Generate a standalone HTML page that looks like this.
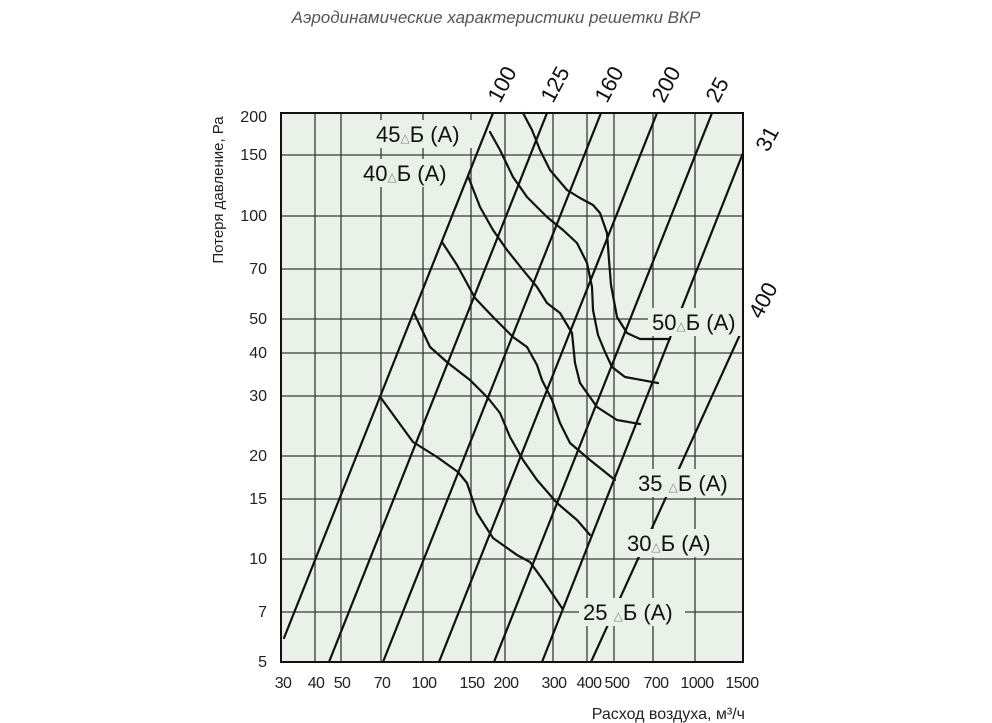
<!DOCTYPE html>
<html><head><meta charset="utf-8"><style>
html,body{margin:0;padding:0;background:#fff;}
svg{display:block;font-family:"Liberation Sans",sans-serif;}
</style></head><body>
<svg width="992" height="723" viewBox="0 0 992 723" xmlns="http://www.w3.org/2000/svg">
<text x="496" y="23" text-anchor="middle" font-size="17" font-style="italic" fill="#555">Аэродинамические характеристики решетки ВКР</text>
<rect x="281" y="113" width="462" height="549" fill="#e9f1e8"/>
<g stroke="#3a3a3a" stroke-width="1.3">
<line x1="315" y1="113" x2="315" y2="662"/><line x1="341" y1="113" x2="341" y2="662"/><line x1="381" y1="113" x2="381" y2="662"/><line x1="423" y1="113" x2="423" y2="662"/><line x1="471" y1="113" x2="471" y2="662"/><line x1="505" y1="113" x2="505" y2="662"/><line x1="553" y1="113" x2="553" y2="662"/><line x1="587" y1="113" x2="587" y2="662"/><line x1="614" y1="113" x2="614" y2="662"/><line x1="653" y1="113" x2="653" y2="662"/><line x1="695" y1="113" x2="695" y2="662"/>
<line x1="281" y1="612" x2="743" y2="612"/><line x1="281" y1="559" x2="743" y2="559"/><line x1="281" y1="499" x2="743" y2="499"/><line x1="281" y1="456" x2="743" y2="456"/><line x1="281" y1="396" x2="743" y2="396"/><line x1="281" y1="353" x2="743" y2="353"/><line x1="281" y1="319" x2="743" y2="319"/><line x1="281" y1="269" x2="743" y2="269"/><line x1="281" y1="216" x2="743" y2="216"/><line x1="281" y1="155" x2="743" y2="155"/>
</g>
<g stroke="#111" stroke-width="2.2" fill="none" stroke-linecap="round" stroke-linejoin="round">
<line x1="284" y1="638" x2="493" y2="113"/>
<line x1="329" y1="662" x2="547" y2="113"/>
<line x1="383" y1="662" x2="601" y2="113"/>
<line x1="439" y1="662" x2="657" y2="113"/>
<line x1="494" y1="662" x2="712" y2="113"/>
<line x1="542" y1="662" x2="743" y2="153"/>
<line x1="591" y1="662" x2="743" y2="328"/>
<polyline points="381,398 413,442 437,457 458,472 467,483 477,513 493,538 517,555 530,562 543,580 562,608"/>
<polyline points="414,313 430,347 448,363 470,380 488,398 500,413 510,437 523,460 537,480 557,503 577,520 590,535"/>
<polyline points="442,242 457,265 475,298 493,317 513,337 527,347 537,365 542,380 552,400 560,423 570,443 590,460 615,480"/>
<polyline points="468,176 480,207 493,230 507,250 523,270 537,287 547,303 560,313 572,333 575,363 580,383 597,407 617,420 640,424"/>
<polyline points="490,132 500,150 513,177 527,197 547,217 563,230 577,243 587,263 592,287 593,310 598,335 605,352 612,367 625,377 658,383"/>
<polyline points="523,113 532,130 540,150 550,170 567,190 580,198 593,205 600,213 607,233 609,260 611,285 617,317 627,333 640,339 670,339"/>
</g>
<g font-size="22" fill="#111">
<rect x="372" y="120" width="106" height="28" fill="#e9f1e8"/>
<text x="376" y="142">45<tspan font-size="12" fill="#888">△</tspan>Б (А)</text>
<rect x="360" y="159" width="100" height="28" fill="#e9f1e8"/>
<text x="363" y="181">40<tspan font-size="12" fill="#888">△</tspan>Б (А)</text>
<rect x="648" y="308" width="95" height="28" fill="#e9f1e8"/>
<text x="652" y="330">50<tspan font-size="12" fill="#888">△</tspan>Б (А)</text>
<rect x="634" y="469" width="104" height="28" fill="#e9f1e8"/>
<text x="638" y="491">35 <tspan font-size="12" fill="#888">△</tspan>Б (А)</text>
<rect x="623" y="529" width="98" height="28" fill="#e9f1e8"/>
<text x="627" y="551">30<tspan font-size="12" fill="#888">△</tspan>Б (А)</text>
<rect x="579" y="598" width="106" height="28" fill="#e9f1e8"/>
<text x="583" y="620">25 <tspan font-size="12" fill="#888">△</tspan>Б (А)</text>
</g>
<rect x="281" y="113" width="462" height="549" fill="none" stroke="#111" stroke-width="2"/>
<g font-size="16" fill="#222" text-anchor="end">
<text x="267" y="122">200</text><text x="267" y="160">150</text><text x="267" y="221">100</text><text x="267" y="274">70</text><text x="267" y="324">50</text><text x="267" y="358">40</text><text x="267" y="401">30</text><text x="267" y="461">20</text><text x="267" y="504">15</text><text x="267" y="564">10</text><text x="267" y="617">7</text><text x="267" y="667">5</text>
</g>
<g font-size="16" fill="#222" text-anchor="middle" letter-spacing="-0.6">
<text x="283" y="688">30</text><text x="316" y="688">40</text><text x="342" y="688">50</text><text x="382" y="688">70</text><text x="424" y="688">100</text><text x="472" y="688">150</text><text x="506" y="688">200</text><text x="554" y="688">300</text><text x="589" y="688">400</text><text x="617" y="688">500</text><text x="656" y="688">700</text><text x="697" y="688">1000</text><text x="742" y="688">1500</text>
</g>
<text x="745" y="719" text-anchor="end" font-size="16" fill="#222">Расход воздуха, м³/ч</text>
<text transform="translate(223,190) rotate(-90)" text-anchor="middle" font-size="15" fill="#222">Потеря давление, Ра</text>
<g font-size="22" fill="#111">
<text transform="translate(500,104) rotate(-62)">100</text>
<text transform="translate(553,104) rotate(-62)">125</text>
<text transform="translate(607,104) rotate(-62)">160</text>
<text transform="translate(664,104) rotate(-62)">200</text>
<text transform="translate(718,104) rotate(-62)">25</text>
<text transform="translate(768,153) rotate(-62)">31</text>
<text transform="translate(761,320) rotate(-62)">400</text>
</g>
</svg>
</body></html>
